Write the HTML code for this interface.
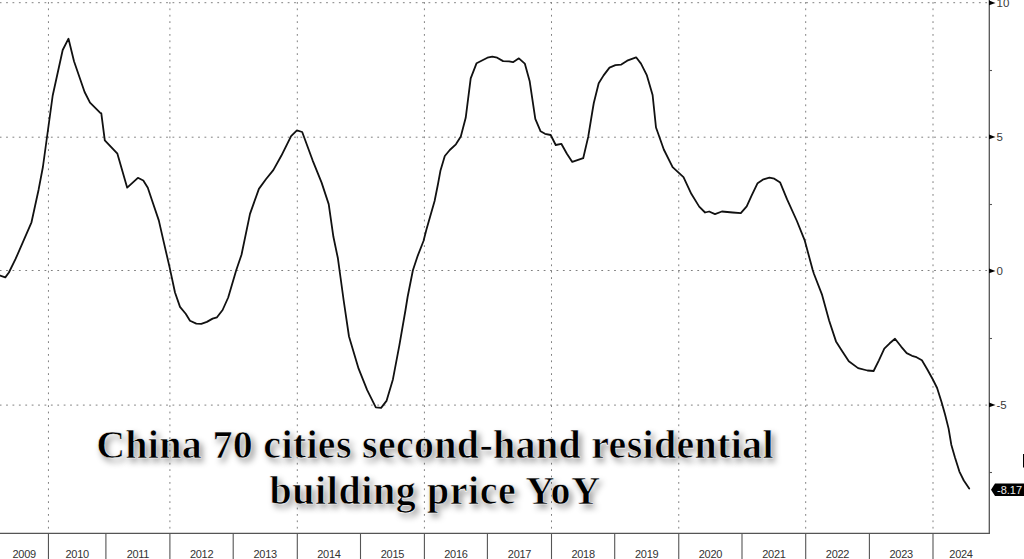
<!DOCTYPE html>
<html><head><meta charset="utf-8"><style>
html,body{margin:0;padding:0;background:#fff;width:1024px;height:559px;overflow:hidden}
#c{position:absolute;left:0;top:0}
.g{stroke:#808080;stroke-width:1;stroke-dasharray:1.8 4.6}
.gh{stroke:#808080;stroke-width:1;stroke-dasharray:1.8 4.6}
.ax{stroke:#555;stroke-width:1.3}
.tk{stroke:#555;stroke-width:1.1}
.ln{fill:none;stroke:#111;stroke-width:1.8;stroke-linejoin:round;stroke-linecap:round}
.yl{font-family:"Liberation Sans",sans-serif;font-size:11.5px;fill:#383838}
.xl{font-family:"Liberation Sans",sans-serif;font-size:11px;fill:#333;letter-spacing:-0.3px}
.vl{font-family:"Liberation Sans",sans-serif;font-size:11px;fill:#eee}
.t{position:absolute;left:0;width:870px;text-align:center;font-family:"Liberation Serif",serif;font-weight:bold;color:#000;
  text-shadow:3px 4px 6px rgba(0,0,0,0.42);-webkit-text-stroke:0.6px #fff;white-space:nowrap}
</style></head><body>
<svg id="c" width="1024" height="559" viewBox="0 0 1024 559">
<line x1="48.45" y1="2" x2="48.45" y2="533" class="g"/>
<line x1="169.9" y1="2" x2="169.9" y2="533" class="g"/>
<line x1="297.3" y1="2" x2="297.3" y2="533" class="g"/>
<line x1="424.4" y1="2" x2="424.4" y2="533" class="g"/>
<line x1="551.5" y1="2" x2="551.5" y2="533" class="g"/>
<line x1="678.75" y1="2" x2="678.75" y2="533" class="g"/>
<line x1="805.7" y1="2" x2="805.7" y2="533" class="g"/>
<line x1="933" y1="2" x2="933" y2="533" class="g"/>
<line x1="-0.3" y1="2.7" x2="989" y2="2.7" class="gh"/>
<line x1="-0.3" y1="137.2" x2="989" y2="137.2" class="gh"/>
<line x1="-0.3" y1="270.5" x2="989" y2="270.5" class="gh"/>
<line x1="-0.3" y1="405.1" x2="989" y2="405.1" class="gh"/>
<line x1="989.3" y1="0" x2="989.3" y2="533" class="ax"/>
<line x1="0" y1="533.3" x2="990" y2="533.3" class="ax"/>
<line x1="48.45" y1="533" x2="48.45" y2="559" class="tk"/>
<line x1="105.9" y1="533" x2="105.9" y2="559" class="tk"/>
<line x1="169.9" y1="533" x2="169.9" y2="559" class="tk"/>
<line x1="233.2" y1="533" x2="233.2" y2="559" class="tk"/>
<line x1="297.3" y1="533" x2="297.3" y2="559" class="tk"/>
<line x1="360.5" y1="533" x2="360.5" y2="559" class="tk"/>
<line x1="424.4" y1="533" x2="424.4" y2="559" class="tk"/>
<line x1="487.4" y1="533" x2="487.4" y2="559" class="tk"/>
<line x1="551.5" y1="533" x2="551.5" y2="559" class="tk"/>
<line x1="614.7" y1="533" x2="614.7" y2="559" class="tk"/>
<line x1="678.75" y1="533" x2="678.75" y2="559" class="tk"/>
<line x1="742" y1="533" x2="742" y2="559" class="tk"/>
<line x1="805.7" y1="533" x2="805.7" y2="559" class="tk"/>
<line x1="869.4" y1="533" x2="869.4" y2="559" class="tk"/>
<line x1="933" y1="533" x2="933" y2="559" class="tk"/>
<line x1="989" y1="70.5" x2="992" y2="70.5" class="tk"/>
<line x1="989" y1="204.5" x2="992" y2="204.5" class="tk"/>
<line x1="989" y1="338.5" x2="992" y2="338.5" class="tk"/>
<line x1="989" y1="472.5" x2="992" y2="472.5" class="tk"/>
<path d="M989,0.6 L995.5,2.9 L989,5.2 Z" fill="#000"/>
<text x="996.5" y="7.1" class="yl">10</text>
<path d="M989,134.6 L995.5,136.9 L989,139.2 Z" fill="#000"/>
<text x="996.5" y="141.1" class="yl">5</text>
<path d="M989,268.6 L995.5,270.9 L989,273.2 Z" fill="#000"/>
<text x="996.5" y="275.1" class="yl">0</text>
<path d="M989,402.6 L995.5,404.9 L989,407.2 Z" fill="#000"/>
<text x="996.5" y="409.1" class="yl">-5</text>
<text x="24.2" y="558" class="xl" text-anchor="middle">2009</text>
<text x="77.2" y="558" class="xl" text-anchor="middle">2010</text>
<text x="137.9" y="558" class="xl" text-anchor="middle">2011</text>
<text x="201.6" y="558" class="xl" text-anchor="middle">2012</text>
<text x="265.2" y="558" class="xl" text-anchor="middle">2013</text>
<text x="328.9" y="558" class="xl" text-anchor="middle">2014</text>
<text x="392.4" y="558" class="xl" text-anchor="middle">2015</text>
<text x="455.9" y="558" class="xl" text-anchor="middle">2016</text>
<text x="519.5" y="558" class="xl" text-anchor="middle">2017</text>
<text x="583.1" y="558" class="xl" text-anchor="middle">2018</text>
<text x="646.7" y="558" class="xl" text-anchor="middle">2019</text>
<text x="710.4" y="558" class="xl" text-anchor="middle">2020</text>
<text x="773.9" y="558" class="xl" text-anchor="middle">2021</text>
<text x="837.5" y="558" class="xl" text-anchor="middle">2022</text>
<text x="901.2" y="558" class="xl" text-anchor="middle">2023</text>
<text x="961.0" y="558" class="xl" text-anchor="middle">2024</text>
<path d="M0.0,275.5 L5.3,277.4 L8.9,272.5 L15.7,258.7 L31.5,222.3 L36.4,199.7 L38.6,189.7 L42.9,167.0 L52.7,95.5 L62.7,50.0 L68.5,38.7 L74.0,61.3 L84.6,92.0 L90.0,102.7 L100.0,112.7 L101.3,113.4 L104.8,140.3 L117.4,153.7 L127.2,187.7 L137.9,177.8 L143.3,180.5 L147.8,187.7 L151.9,200.0 L158.8,220.4 L163.3,240.1 L169.5,266.9 L175.0,292.5 L180.0,306.9 L185.7,313.8 L190.0,320.7 L196.3,323.6 L201.3,323.8 L206.9,321.9 L212.6,318.6 L217.0,317.3 L222.6,310.0 L228.2,297.5 L236.3,270.0 L241.5,254.7 L250.0,213.9 L258.9,188.9 L266.1,179.0 L273.3,170.1 L281.3,155.8 L291.1,136.1 L296.9,130.4 L302.2,132.0 L312.6,160.3 L321.6,182.6 L328.7,204.1 L333.4,236.8 L337.9,258.3 L340.6,278.0 L343.6,300.0 L349.0,336.5 L358.6,368.7 L367.2,390.1 L375.8,407.3 L381.1,407.9 L386.5,400.9 L392.9,379.4 L399.4,345.1 L405.5,310.0 L407.6,297.0 L412.9,270.3 L417.7,255.8 L423.5,241.0 L426.3,230.0 L434.6,201.0 L438.0,184.0 L440.5,170.4 L444.8,156.0 L449.8,150.0 L455.9,144.3 L460.8,136.5 L465.7,117.8 L470.7,78.4 L476.6,63.2 L481.5,60.7 L487.4,57.7 L492.3,56.7 L497.2,57.7 L503.1,61.1 L509.1,61.3 L513.0,62.2 L518.9,58.3 L524.8,63.6 L529.7,81.3 L535.3,118.8 L540.6,131.3 L545.0,133.8 L550.7,135.0 L555.7,145.0 L561.3,143.8 L566.9,153.8 L572.3,161.9 L583.2,158.2 L588.2,136.9 L592.6,110.0 L593.8,103.0 L598.7,83.3 L603.6,75.4 L609.5,67.6 L615.4,65.2 L621.3,64.6 L627.2,60.7 L636.1,57.3 L641.0,63.6 L646.9,75.4 L652.6,95.0 L656.0,127.5 L658.5,134.5 L663.8,149.5 L672.6,167.2 L683.5,177.1 L691.3,193.8 L699.2,206.6 L705.1,212.5 L709.1,211.5 L715.0,214.1 L721.9,211.5 L732.7,212.5 L740.8,213.1 L746.7,206.3 L751.7,195.4 L757.6,183.2 L763.5,179.3 L769.4,177.7 L774.3,178.7 L780.2,182.6 L787.1,199.4 L796.9,221.0 L804.8,240.7 L812.7,270.0 L814.0,274.0 L822.1,294.9 L829.1,320.5 L836.0,341.4 L841.9,350.7 L848.8,361.2 L858.1,368.1 L867.4,370.5 L873.6,371.0 L878.9,360.3 L884.3,348.6 L889.7,343.3 L895.0,338.8 L901.3,346.8 L906.7,353.1 L912.0,355.8 L916.5,357.2 L921.9,360.3 L927.2,369.2 L932.6,379.0 L937.1,388.0 L941.6,402.3 L945.0,414.3 L948.6,428.6 L951.3,444.7 L954.9,457.2 L959.4,471.6 L963.8,480.5 L969.2,488.6" class="ln"/>
<path d="M991,489.8 L995,483.5 L1024,483.5 L1024,496 L995,496 Z" fill="#000"/>
<text x="997" y="493.8" class="vl">-8.17</text>
<rect x="1023" y="454" width="1" height="13.5" fill="#000"/>
</svg>
<div class="t" id="t1" style="top:422px;font-size:40px;line-height:46px;letter-spacing:0.3px">China 70 cities second-hand residential</div>
<div class="t" id="t2" style="top:467.5px;font-size:40px;line-height:46px;letter-spacing:0.58px">building price YoY</div>
</body></html>
